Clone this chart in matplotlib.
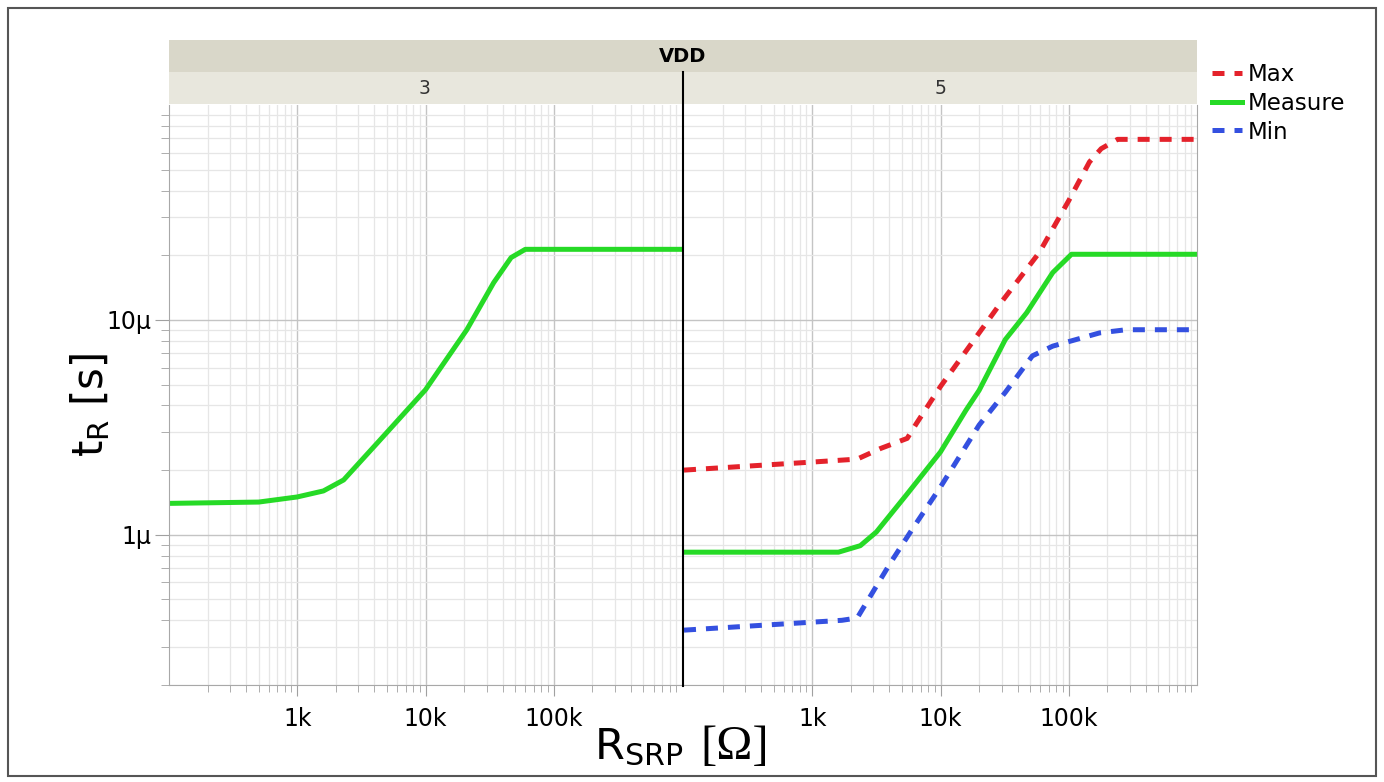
import matplotlib.pyplot as plt
import matplotlib.ticker as mticker
from matplotlib.patches import Rectangle
from matplotlib.lines import Line2D

plt.rcParams['font.family'] = 'DejaVu Sans'

# VDD = 3 : only the measured curve
r_meas3 = [100, 500, 1000, 1600, 2300, 4200, 10000, 21000, 34000, 46500, 60000, 1e6]
t_meas3 = [1.40, 1.42, 1.50, 1.60, 1.80, 2.67, 4.73, 9.0, 14.9, 19.5, 21.3, 21.3]  # µs

# VDD = 5
r_max5 = [100, 1000, 2240, 3400, 5500, 6500, 10000, 28900, 59000, 100000, 145000, 179000, 240000, 1e6]
t_max5 = [2.0, 2.18, 2.25, 2.52, 2.81, 3.3, 4.9, 11.8, 20.6, 35.9, 54.3, 62.6, 69.2, 69.2]

r_meas5 = [100, 1600, 2370, 3160, 5500, 10000, 15800, 20000, 32000, 47000, 75000, 105000, 1e6]
t_meas5 = [0.83, 0.83, 0.89, 1.03, 1.55, 2.43, 3.8, 4.7, 8.1, 10.8, 16.6, 20.2, 20.2]

r_min5 = [100, 1700, 2240, 4100, 6200, 10000, 20000, 32000, 52000, 75000, 114000, 174000, 280000, 1e6]
t_min5 = [0.36, 0.40, 0.41, 0.745, 1.09, 1.67, 3.24, 4.6, 6.8, 7.55, 8.1, 8.7, 9.0, 9.0]

panel_labels = ['3', '5']
xtick_vals = [1e3, 1e4, 1e5]
xtick_labels = ['1k', '10k', '100k']
ytick_vals = [1e-6, 1e-5]
ytick_labels = ['1µ', '10µ']

c_max = '#e4222b'
c_meas = '#26da26'
c_min = '#3450e0'
lw = 3.6
dash = (2.4, 2.0)

W, H = 1384, 782
fig = plt.figure(figsize=(W / 100, H / 100), dpi=100)

def fx(px):
    return px / W

def fy(py):
    return 1 - py / H

ax_l = fig.add_axes([fx(169), fy(685), fx(513), fy(105) - fy(685)])
ax_r = fig.add_axes([fx(684), fy(685), fx(513), fy(105) - fy(685)], sharey=ax_l)

us = 1e-6
ax_l.plot(r_meas3, [v * us for v in t_meas3], color=c_meas, lw=lw, solid_joinstyle='round')
ax_r.plot(r_max5, [v * us for v in t_max5], color=c_max, lw=lw, dashes=dash)
ax_r.plot(r_meas5, [v * us for v in t_meas5], color=c_meas, lw=lw, solid_joinstyle='round')
ax_r.plot(r_min5, [v * us for v in t_min5], color=c_min, lw=lw, dashes=dash)

for ax in (ax_l, ax_r):
    ax.set_xscale('log')
    ax.set_yscale('log')
    ax.set_xlim(100, 1e6)
    ax.set_ylim(0.2e-6, 1e-4)
    ax.set_xticks(xtick_vals, xtick_labels)
    ax.xaxis.set_minor_locator(mticker.LogLocator(base=10, subs=range(2, 10), numticks=20))
    ax.xaxis.set_minor_formatter(mticker.NullFormatter())
    ax.yaxis.set_minor_locator(mticker.LogLocator(base=10, subs=range(2, 10), numticks=20))
    ax.yaxis.set_minor_formatter(mticker.NullFormatter())
    ax.grid(True, which='major', color='#c4c4c4', lw=1.0)
    ax.grid(True, which='minor', color='#e6e6e6', lw=0.9)
    ax.set_axisbelow(True)
    for s in ax.spines.values():
        s.set_color('#a8a8a8')
    ax.spines['top'].set_visible(False)
    ax.tick_params(axis='x', which='major', length=8, color='#a0a0a0', labelsize=17, pad=8)
    ax.tick_params(axis='x', which='minor', length=5, color='#a0a0a0')
    ax.tick_params(axis='y', which='major', length=10, color='#a0a0a0', labelsize=17, pad=3)
    ax.tick_params(axis='y', which='minor', length=6, color='#a0a0a0')

ax_l.set_yticks(ytick_vals, ytick_labels)
ax_l.yaxis.set_minor_formatter(mticker.NullFormatter())
ax_l.spines['right'].set_visible(False)
ax_r.spines['left'].set_visible(False)
ax_r.tick_params(axis='y', which='both', left=False, labelleft=False)

# facet strips
fig.patches.append(Rectangle((fx(169), fy(72)), fx(1197 - 169), fy(40) - fy(72),
                             transform=fig.transFigure, facecolor='#d9d7c9', edgecolor='none'))
fig.patches.append(Rectangle((fx(169), fy(104)), fx(1197 - 169), fy(72) - fy(104),
                             transform=fig.transFigure, facecolor='#e8e7dd', edgecolor='none'))
fig.text(fx(683), fy(57), 'VDD', ha='center', va='center', fontsize=14, fontweight='bold')
fig.text(fx(425), fy(88), panel_labels[0], ha='center', va='center', fontsize=13.5, color='#333333')
fig.text(fx(940), fy(88), panel_labels[1], ha='center', va='center', fontsize=13.5, color='#333333')

# panel separator
fig.add_artist(Line2D([fx(683), fx(683)], [fy(72), fy(686)], color='black', lw=1.5))

# outer frame
fig.patches.append(Rectangle((fx(8), fy(776)), fx(1376 - 8), fy(8) - fy(776),
                             transform=fig.transFigure, facecolor='none', edgecolor='#555555', lw=1.5))

fig.text(fx(90), fy(405), r't$_\mathregular{R}$ [s]', rotation=90, ha='center', va='center', fontsize=30)
fig.text(fx(594), fy(759), r'R$_\mathregular{SRP}$', ha='left', va='baseline', fontsize=31)
fig.text(fx(700), fy(759), '[Ω]', ha='left', va='baseline', fontsize=35, family='Liberation Serif')

handles = [Line2D([0], [0], color=c_max, lw=lw, dashes=dash),
           Line2D([0], [0], color=c_meas, lw=lw),
           Line2D([0], [0], color=c_min, lw=lw, dashes=dash)]
fig.legend(handles, ['Max', 'Measure', 'Min'], loc='upper left', bbox_to_anchor=(fx(1196), fy(47)),
           frameon=False, fontsize=16.5, handlelength=1.3, handletextpad=0.28, labelspacing=0.25,
           borderpad=0.2)

fig.savefig('out.png', dpi=100)
